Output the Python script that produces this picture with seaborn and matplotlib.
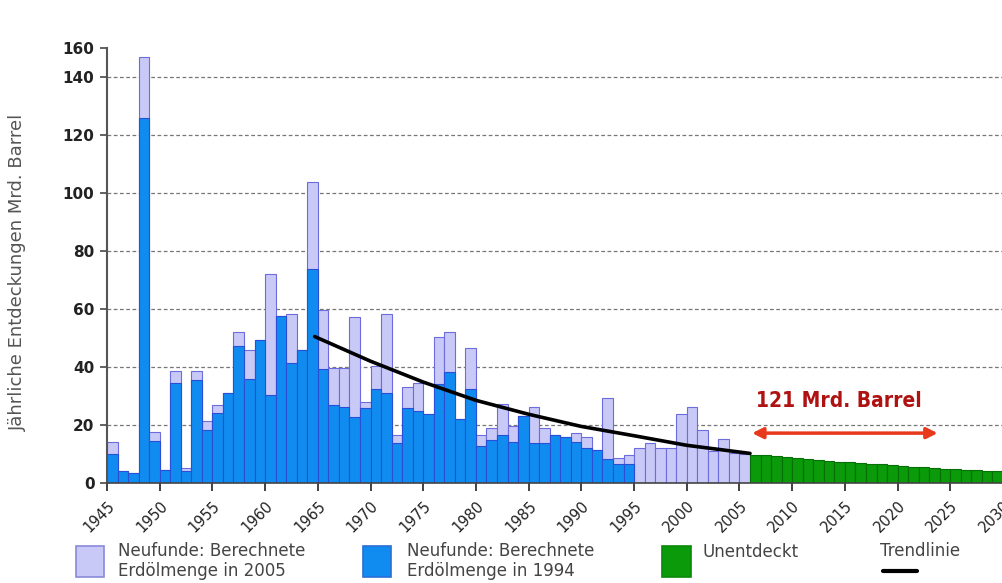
import numpy as np
import pandas as pd
import matplotlib
matplotlib.use("Agg")
import matplotlib.pyplot as plt
import seaborn as sns
from matplotlib.patches import Rectangle
from matplotlib.lines import Line2D

# jaehrliche Neufunde 1945-2005 (Mrd. Barrel)
jahre = list(range(1945, 2006))
menge_2005 = [14, 4, 3.3, 147, 17.5, 4.5, 38.5, 5.3, 38.5, 21.5,
              27, 31, 52, 46, 49.3, 72, 57.6, 58.3, 45.7, 103.8,
              59.7, 39.5, 39.5, 57.1, 28, 40.3, 58.3, 16.6, 33, 34.4,
              23.8, 50.2, 52.2, 22, 46.7, 16.4, 18.9, 27.3, 19.5, 23.2,
              26.3, 18.9, 16.4, 16, 17.1, 15.8, 11.4, 29.2, 8.5, 9.7,
              12, 13.7, 12, 12, 23.7, 26.3, 18.3, 11, 15.1, 10.2, 10]
# Stand 1994 (nur bis 1994)
jahre_1994 = list(range(1945, 1995))
menge_1994 = [10, 4, 3.3, 126, 14.5, 4.5, 34.5, 4, 35.5, 18.3,
              24, 31, 47.4, 36, 49.3, 30.3, 57.6, 41.3, 45.7, 73.8,
              39.2, 26.9, 26.1, 22.6, 25.7, 32.3, 31.1, 13.9, 25.7, 24.9,
              23.8, 34.1, 38.4, 22, 32.5, 12.8, 14.8, 16.4, 14.3, 23.2,
              13.9, 13.9, 16.4, 16, 14, 12.2, 11.4, 8.4, 6.6, 6.6]
# unentdeckt 2006-2029
jahre_unentdeckt = list(range(2006, 2030))
unentdeckt = [9.8, 9.5, 9.2, 8.9, 8.6, 8.3, 8.0, 7.7, 7.4, 7.1,
              6.8, 6.6, 6.4, 6.2, 5.9, 5.6, 5.4, 5.1, 4.9, 4.7,
              4.5, 4.4, 4.3, 4.2]
trend_x = [1964.2, 1969.5, 1974.5, 1979.5, 1984.5, 1989.5, 1994.5, 1999.5, 2005.5]
trend_y = [50.5, 42, 34.8, 28.5, 23.7, 19.5, 16.3, 13, 10.2]

tick_jahre = list(range(1945, 2031, 5))
y_ticks = [0, 20, 40, 60, 80, 100, 120, 140, 150]
y_labels = ["0", "20", "40", "60", "80", "100", "120", "140", "160"]

lavendel = "#c9c9f7"
blau = "#108cf0"
gruen = "#0a9a0a"

sns.set_style("white")
plt.rcParams["font.family"] = ["DejaVu Sans"]

W, H = 1003, 583
fig = plt.figure(figsize=(W / 100, H / 100), dpi=100)
ax = fig.add_axes([107 / W, 100 / H, 896 / W, 435 / H])

df_2005 = pd.DataFrame({"jahr": jahre, "wert": menge_2005})
df_1994 = pd.DataFrame({"jahr": jahre_1994, "wert": menge_1994})
df_un = pd.DataFrame({"jahr": jahre_unentdeckt, "wert": unentdeckt})

sns.barplot(data=df_2005, x="jahr", y="wert", native_scale=True, width=1,
            color=lavendel, saturation=1, edgecolor="#6c6cdc", linewidth=0.8,
            errorbar=None, ax=ax, zorder=2)
sns.barplot(data=df_1994, x="jahr", y="wert", native_scale=True, width=1,
            color=blau, saturation=1, edgecolor="#2a4fd6", linewidth=0.8,
            errorbar=None, ax=ax, zorder=3)
sns.barplot(data=df_un, x="jahr", y="wert", native_scale=True, width=1,
            color=gruen, saturation=1, edgecolor="#067006", linewidth=0.8,
            errorbar=None, ax=ax, zorder=3)

ax.plot(trend_x, trend_y, color="black", lw=2.6, zorder=5, solid_capstyle="round")

# Pfeil und Beschriftung
ax.annotate("", xy=(2023.3, 17.2), xytext=(2005.7, 17.2),
            arrowprops=dict(arrowstyle="<|-|>", color="#e8391c", lw=2.5,
                            mutation_scale=16, shrinkA=0, shrinkB=0), zorder=6)
ax.text(2013.9, 28.3, "121 Mrd. Barrel", color="#b01212", fontsize=15,
        fontweight="bold", fontstretch="condensed",
        family=["DejaVu Sans"], ha="center", va="center", zorder=6)

ax.set_xlim(1944.5, 2029.5)
ax.set_ylim(0, 150)
ax.set_xticks([j - 0.5 for j in tick_jahre])
ax.set_xticklabels([str(j) for j in tick_jahre], rotation=45, ha="right",
                   va="top", rotation_mode="anchor", fontsize=10.5, color="#222")
ax.set_yticks(y_ticks)
ax.set_yticklabels(y_labels, fontsize=11, fontweight="bold", color="#222")
ax.set_xlabel("")
ax.set_ylabel("")

for y in y_ticks[1:-1]:
    ax.axhline(y, color="#777777", lw=0.9, ls=(0, (3, 2)), zorder=1)

for s in ["top", "right"]:
    ax.spines[s].set_visible(False)
ax.spines["left"].set_color("#555555")
ax.spines["left"].set_linewidth(1.5)
ax.spines["bottom"].set_color("#444444")
ax.spines["bottom"].set_linewidth(1.2)
ax.spines["bottom"].set_zorder(7)
ax.tick_params(axis="y", left=True, length=5, width=1.3, color="#555", pad=4)
ax.tick_params(axis="x", bottom=True, length=6, width=1.3, color="#333", pad=5)

fig.text(18 / W, 1 - 272 / H, "Jährliche Entdeckungen Mrd. Barrel", rotation=90,
         ha="center", va="center", fontsize=13, color="#555555")


# Legende (manuell, Pixelkoordinaten)
def fx(px):
    return px / W


def fy(py):
    return 1 - py / H


def patch(x0, x1, y0, y1, fc, ec):
    fig.add_artist(Rectangle((fx(x0), fy(y1)), fx(x1) - fx(x0), fy(y0) - fy(y1),
                             facecolor=fc, edgecolor=ec, lw=1.2,
                             transform=fig.transFigure))


patch(76, 104, 546, 577, lavendel, "#8a8ad8")
fig.text(fx(118), fy(561), "Neufunde: Berechnete\nErdölmenge in 2005",
         ha="left", va="center", fontsize=12, color="#444", linespacing=1.1)
patch(363, 391, 546, 577, blau, "#2a6fd6")
fig.text(fx(407), fy(561), "Neufunde: Berechnete\nErdölmenge in 1994",
         ha="left", va="center", fontsize=12, color="#444", linespacing=1.1)
patch(662, 691, 546, 577, gruen, "#0a8a0a")
fig.text(fx(703), fy(552), "Unentdeckt", ha="left", va="center",
         fontsize=12, color="#444")
fig.text(fx(880), fy(551), "Trendlinie", ha="left", va="center",
         fontsize=12, color="#444")
fig.add_artist(Line2D([fx(883), fx(917)], [fy(571), fy(571)], color="black",
                      lw=3, transform=fig.transFigure))

fig.savefig("out.png", dpi=100)
